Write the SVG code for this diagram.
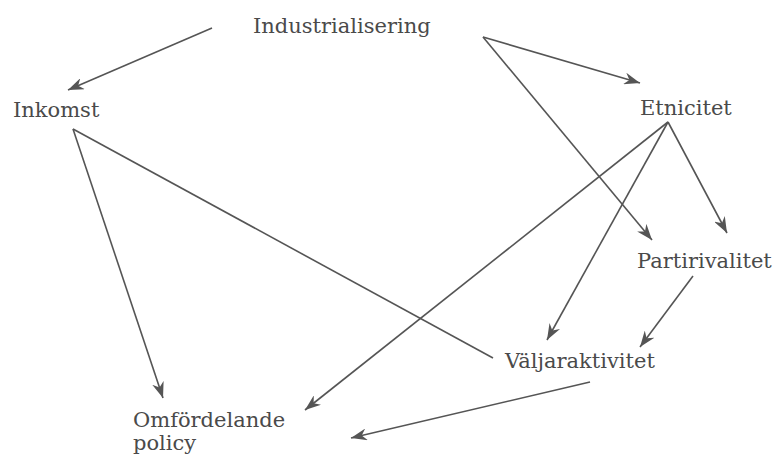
<svg xmlns="http://www.w3.org/2000/svg" width="776" height="455" viewBox="0 0 776 455">
<defs>
<style>
.lbl{font-family:"DejaVu Serif","Liberation Serif",serif;font-size:21px;fill:#4a4a4a}
.edge{stroke:#555;stroke-width:1.6;fill:none}
</style>
<marker id="ah" markerUnits="userSpaceOnUse" markerWidth="16" markerHeight="12" refX="16" refY="6" orient="auto">
<path d="M0,0 L16,6 L0,12 L5,6 Z" fill="#555"/>
</marker>
</defs>
<rect width="776" height="455" fill="#fff"/>
<g id="connectors">
<path class="edge" d="M212,28 L68,90" marker-end="url(#ah)"/>
<path class="edge" d="M483,37 L640,83" marker-end="url(#ah)"/>
<path class="edge" d="M483,37 L652,240" marker-end="url(#ah)"/>
<path class="edge" d="M668,122 L727,233" marker-end="url(#ah)"/>
<path class="edge" d="M668,122 L547,340" marker-end="url(#ah)"/>
<path class="edge" d="M668,122 L305,410" marker-end="url(#ah)"/>
<path class="edge" d="M73,129 L163,398" marker-end="url(#ah)"/>
<path class="edge" d="M73,129 L493,358"/>
<path class="edge" d="M693,276 L640,347" marker-end="url(#ah)"/>
<path class="edge" d="M590,382 L351,438" marker-end="url(#ah)"/>
</g>
<g id="industrialisering"><text class="lbl" x="253" y="33">Industrialisering</text></g>
<g id="inkomst"><text class="lbl" x="13" y="117">Inkomst</text></g>
<g id="etnicitet"><text class="lbl" x="640" y="115">Etnicitet</text></g>
<g id="partirivalitet"><text class="lbl" x="637" y="268">Partirivalitet</text></g>
<g id="valjaraktivitet"><text class="lbl" x="505" y="368">Väljaraktivitet</text></g>
<g id="omfordelande"><text class="lbl" x="133" y="427">Omfördelande</text><text class="lbl" x="133" y="450">policy</text></g>
</svg>
